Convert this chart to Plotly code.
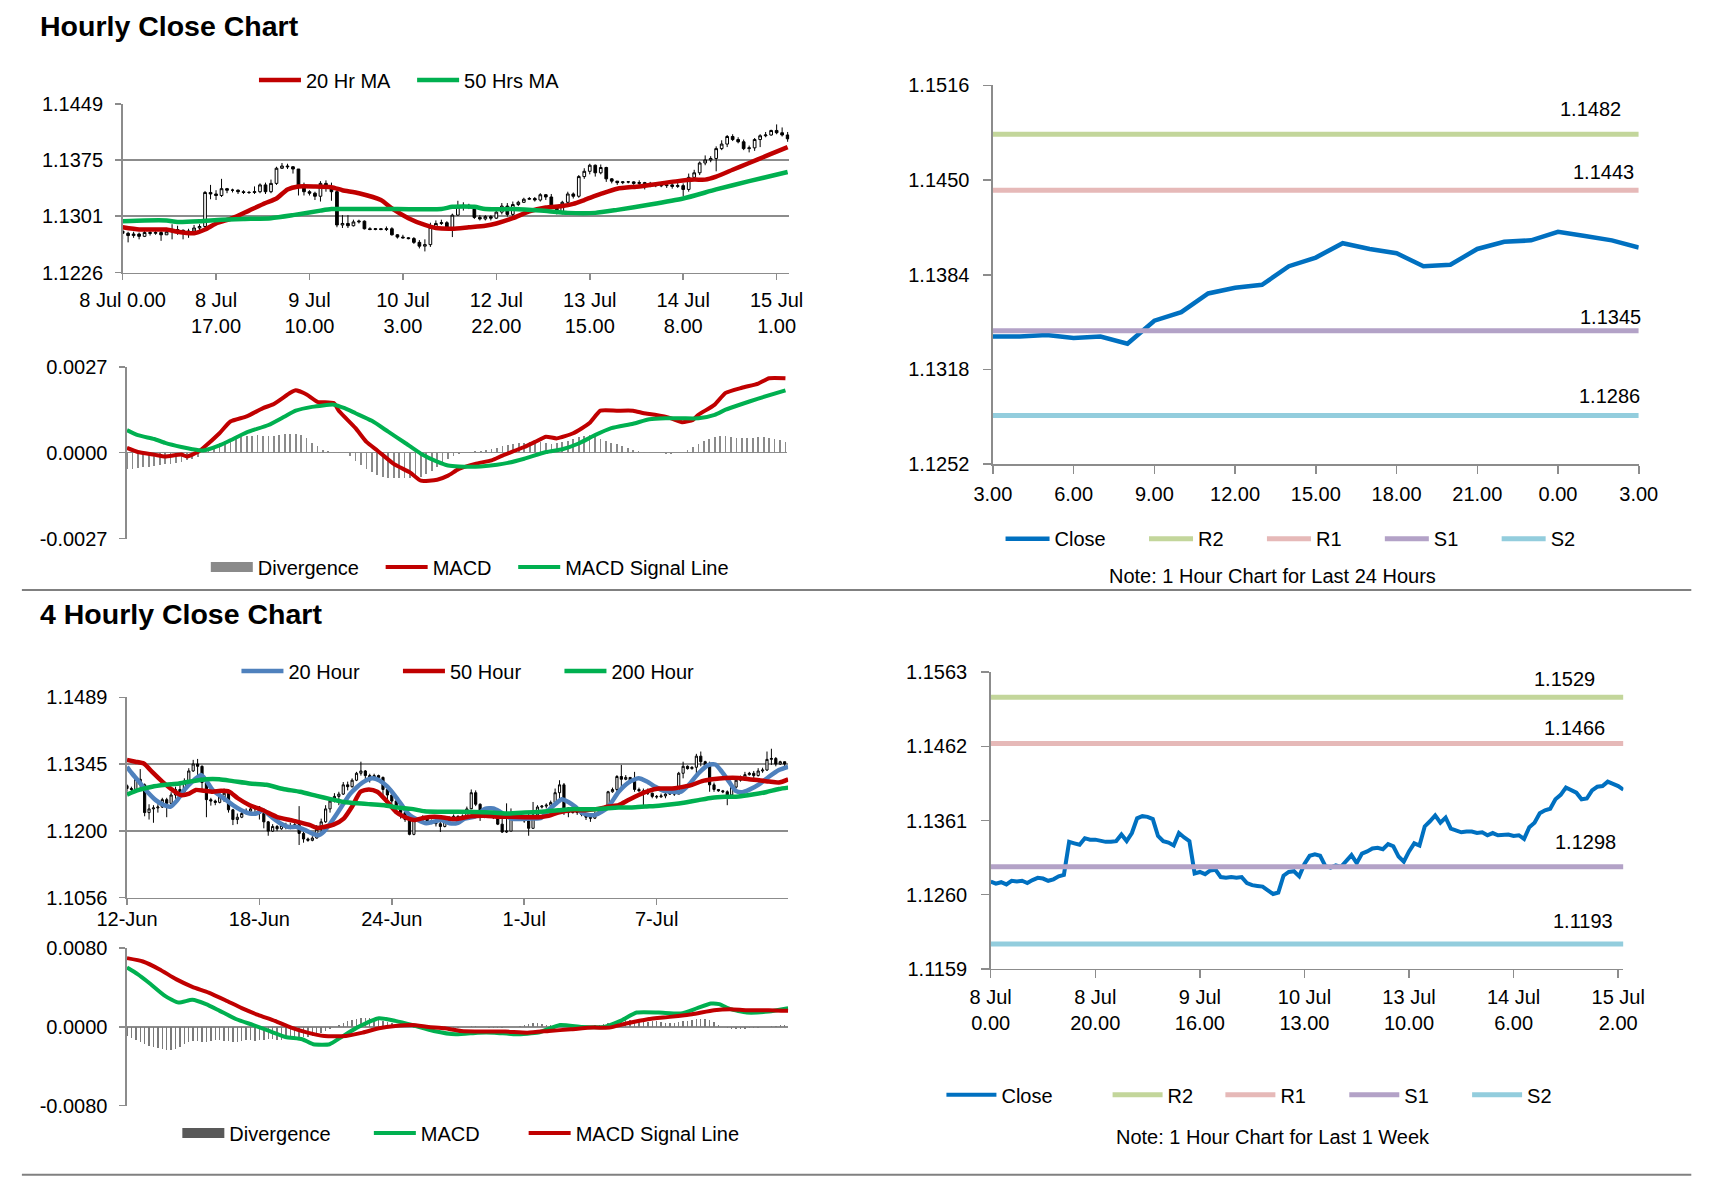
import plotly.graph_objects as go

# ------------------------------------------------------------------
# DATA
# ------------------------------------------------------------------
# Hourly candles, 8 Jul 0:00 .. 15 Jul 3:00 (index = hour number, weekend skipped)
hourly_first_open = 1.1281
hourly_close = [
    1.1278, 1.1275, 1.1277, 1.1274, 1.1279, 1.1278, 1.1279, 1.1276, 1.1280, 1.1283,
    1.1282, 1.1279, 1.1281, 1.1285, 1.1287, 1.1332, 1.1330, 1.1328, 1.1337, 1.1335,
    1.1335, 1.1333, 1.1332, 1.1332, 1.1333, 1.1342, 1.1333, 1.1344, 1.1364, 1.1367,
    1.1366, 1.1363, 1.1340, 1.1333, 1.1331, 1.1327, 1.1344, 1.1338, 1.1333, 1.1289,
    1.1291, 1.1288, 1.1293, 1.1294, 1.1284, 1.1283, 1.1284, 1.1283, 1.1284, 1.1276,
    1.1273, 1.1272, 1.1271, 1.1266, 1.1261, 1.1263, 1.1286, 1.1291, 1.1292, 1.1285,
    1.1302, 1.1313, 1.1315, 1.1313, 1.1299, 1.1297, 1.1300, 1.1298, 1.1306, 1.1314,
    1.1303, 1.1316, 1.1319, 1.1323, 1.1324, 1.1322, 1.1329, 1.1326, 1.1312, 1.1305,
    1.1319, 1.1330, 1.1327, 1.1353, 1.1360, 1.1368, 1.1358, 1.1365, 1.1350, 1.1347,
    1.1345, 1.1346, 1.1346, 1.1344, 1.1345, 1.1341, 1.1344, 1.1341, 1.1341, 1.1342,
    1.1340, 1.1341, 1.1336, 1.1352, 1.1358, 1.1371, 1.1375, 1.1377, 1.1390, 1.1396,
    1.1406, 1.1402, 1.1399, 1.1390, 1.1391, 1.1402, 1.1407, 1.1408, 1.1414, 1.1411,
    1.1408, 1.1403]
hourly_high = [
    1.1281, 1.1280, 1.1280, 1.1279, 1.1283, 1.1281, 1.1282, 1.1281, 1.1283, 1.1290,
    1.1288, 1.1283, 1.1284, 1.1289, 1.1290, 1.1334, 1.1342, 1.1335, 1.1350, 1.1338,
    1.1337, 1.1336, 1.1335, 1.1334, 1.1340, 1.1344, 1.1345, 1.1349, 1.1366, 1.1371,
    1.1370, 1.1367, 1.1362, 1.1345, 1.1335, 1.1333, 1.1347, 1.1348, 1.1345, 1.1338,
    1.1302, 1.1302, 1.1296, 1.1296, 1.1295, 1.1286, 1.1285, 1.1285, 1.1287, 1.1286,
    1.1277, 1.1276, 1.1273, 1.1273, 1.1269, 1.1270, 1.1292, 1.1295, 1.1296, 1.1294,
    1.1304, 1.1321, 1.1319, 1.1317, 1.1313, 1.1302, 1.1302, 1.1302, 1.1308, 1.1318,
    1.1318, 1.1320, 1.1321, 1.1325, 1.1326, 1.1326, 1.1331, 1.1330, 1.1330, 1.1312,
    1.1321, 1.1333, 1.1332, 1.1355, 1.1364, 1.1370, 1.1369, 1.1369, 1.1366, 1.1351,
    1.1347, 1.1347, 1.1347, 1.1347, 1.1348, 1.1346, 1.1346, 1.1345, 1.1345, 1.1347,
    1.1346, 1.1345, 1.1344, 1.1357, 1.1362, 1.1373, 1.1381, 1.1380, 1.1393, 1.1401,
    1.1408, 1.1409, 1.1405, 1.1402, 1.1394, 1.1404, 1.1409, 1.1412, 1.1415, 1.1422,
    1.1418, 1.1412]
hourly_low = [
    1.1270, 1.1266, 1.1272, 1.1270, 1.1273, 1.1275, 1.1276, 1.1268, 1.1276, 1.1270,
    1.1276, 1.1270, 1.1272, 1.1280, 1.1282, 1.1285, 1.1323, 1.1322, 1.1326, 1.1331,
    1.1332, 1.1330, 1.1330, 1.1330, 1.1330, 1.1331, 1.1330, 1.1331, 1.1342, 1.1363,
    1.1363, 1.1357, 1.1328, 1.1328, 1.1328, 1.1322, 1.1320, 1.1333, 1.1321, 1.1286,
    1.1285, 1.1285, 1.1287, 1.1291, 1.1283, 1.1282, 1.1282, 1.1282, 1.1281, 1.1275,
    1.1271, 1.1271, 1.1270, 1.1264, 1.1258, 1.1254, 1.1260, 1.1284, 1.1289, 1.1283,
    1.1273, 1.1301, 1.1308, 1.1310, 1.1297, 1.1295, 1.1295, 1.1295, 1.1297, 1.1303,
    1.1300, 1.1300, 1.1314, 1.1318, 1.1322, 1.1320, 1.1320, 1.1322, 1.1310, 1.1303,
    1.1303, 1.1318, 1.1324, 1.1325, 1.1350, 1.1356, 1.1353, 1.1356, 1.1346, 1.1344,
    1.1342, 1.1343, 1.1344, 1.1342, 1.1341, 1.1336, 1.1339, 1.1339, 1.1339, 1.1338,
    1.1337, 1.1338, 1.1327, 1.1333, 1.1350, 1.1355, 1.1368, 1.1372, 1.1360, 1.1388,
    1.1392, 1.1400, 1.1397, 1.1388, 1.1385, 1.1387, 1.1392, 1.1405, 1.1407, 1.1409,
    1.1406, 1.1399]
hourly_tick_idx = [0, 17, 34, 51, 68, 85, 102, 119]
hourly_tick_text = ["8 Jul 0.00", "8 Jul<br>17.00", "9 Jul<br>10.00", "10 Jul<br>3.00",
                    "12 Jul<br>22.00", "13 Jul<br>15.00", "14 Jul<br>8.00", "15 Jul<br>1.00"]
hourly_yticks = [1.1226, 1.1301, 1.1375, 1.1449]

ma20_idx = [0, 3, 5, 8, 10, 13, 15, 17, 20, 23, 26, 28, 30, 32, 35, 38, 40, 43, 47, 49,
            52, 55, 57, 60, 63, 66, 68, 71, 74, 77, 80, 82, 84, 87, 90, 94, 98, 101, 104, 106,
            108, 111, 114, 117, 119, 121]
ma20_val = [1.1286, 1.1283, 1.1283, 1.1283, 1.1280, 1.1278, 1.1283, 1.1291, 1.1298, 1.1308,
            1.1318, 1.1324, 1.1336, 1.1340, 1.1340, 1.1339, 1.1335, 1.1331, 1.1322, 1.1311,
            1.1298, 1.1289, 1.1285, 1.1284, 1.1286, 1.1288, 1.1291, 1.1298, 1.1307, 1.1312,
            1.1314, 1.1317, 1.1322, 1.1330, 1.1337, 1.1340, 1.1344, 1.1347, 1.1349, 1.1349,
            1.1353, 1.1362, 1.1371, 1.1380, 1.1386, 1.1392]
ma50_idx = [0, 4, 8, 10, 14, 18, 22, 27, 31, 36, 38, 41, 50, 58, 60, 64, 66, 71, 76, 81,
            86, 90, 96, 102, 108, 114, 121]
ma50_val = [1.1294, 1.1295, 1.1295, 1.1293, 1.1294, 1.1296, 1.1297, 1.1298, 1.1302, 1.1308,
            1.1310, 1.1310, 1.1310, 1.1310, 1.1313, 1.1313, 1.1310, 1.1310, 1.1308, 1.1305,
            1.1305, 1.1309, 1.1316, 1.1324, 1.1336, 1.1347, 1.1359]

macd1_idx = [0, 2, 5, 7, 10, 11, 13, 14, 17, 19, 22, 25, 27, 30, 31, 33, 35, 38, 39, 42,
             44, 46, 49, 52, 54, 57, 59, 61, 64, 67, 69, 73, 75, 77, 79, 82, 85, 87, 90, 93,
             95, 97, 100, 102, 104, 105, 108, 110, 113, 116, 118, 121]
macd1_val = [0.00015, 0.00002, -0.00006, -0.00012, -0.00006, -0.00012, 0.00002, 0.00015, 0.00061, 0.00098,
             0.00114, 0.00140, 0.00153, 0.00188, 0.00196, 0.00183, 0.00160, 0.00156, 0.00130, 0.00077,
             0.00034, 0.00007, -0.00035, -0.00062, -0.00088, -0.00085, -0.00072, -0.00051, -0.00035, -0.00024,
             -0.00009, 0.00018, 0.00034, 0.00050, 0.00045, 0.00061, 0.00093, 0.00132, 0.00132, 0.00132,
             0.00124, 0.00119, 0.00108, 0.00096, 0.00103, 0.00119, 0.00151, 0.00188, 0.00204, 0.00217,
             0.00234, 0.00234]
signal1_idx = [0, 2, 5, 7, 10, 12, 14, 17, 19, 22, 26, 29, 31, 34, 38, 40, 42, 45, 48, 51,
               54, 57, 59, 61, 65, 68, 70, 73, 77, 80, 83, 86, 89, 93, 96, 99, 102, 105, 108, 110,
               113, 116, 121]
signal1_val = [0.00071, 0.00055, 0.00043, 0.00031, 0.00018, 0.00011, 0.00007, 0.00023, 0.00039, 0.00064,
               0.00087, 0.00114, 0.00132, 0.00144, 0.00151, 0.00140, 0.00124, 0.00100, 0.00066, 0.00032,
               -0.00003, -0.00028, -0.00040, -0.00043, -0.00043, -0.00038, -0.00032, -0.00019, 0.00002, 0.00011,
               0.00029, 0.00055, 0.00077, 0.00091, 0.00105, 0.00108, 0.00108, 0.00108, 0.00119, 0.00135,
               0.00153, 0.00170, 0.00196]
div1 = [
    -0.00050, -0.00050, -0.00048, -0.00046, -0.00044, -0.00042, -0.00040, -0.00037, -0.00034, -0.00031,
    -0.00028, -0.00024, -0.00020, -0.00012, 0.00000, 0.00010, 0.00020, 0.00030, 0.00038, 0.00044,
    0.00048, 0.00050, 0.00052, 0.00054, 0.00055, 0.00054, 0.00053, 0.00054, 0.00056, 0.00058,
    0.00060, 0.00060, 0.00055, 0.00045, 0.00032, 0.00020, 0.00010, 0.00005, 0.00003, 0.00002,
    0.00000, -0.00010, -0.00025, -0.00040, -0.00052, -0.00062, -0.00070, -0.00075, -0.00078, -0.00080,
    -0.00080, -0.00080, -0.00079, -0.00078, -0.00075, -0.00068, -0.00058, -0.00045, -0.00032, -0.00020,
    -0.00010, -0.00004, -0.00002, 0.00002, 0.00004, 0.00006, 0.00008, 0.00012, 0.00016, 0.00020,
    0.00024, 0.00028, 0.00030, 0.00032, 0.00033, 0.00034, 0.00033, 0.00030, 0.00028, 0.00030,
    0.00034, 0.00038, 0.00042, 0.00048, 0.00052, 0.00055, 0.00050, 0.00044, 0.00038, 0.00032,
    0.00026, 0.00020, 0.00014, 0.00008, 0.00004, 0.00002, 0.00001, 0.00000, -0.00002, -0.00004,
    -0.00003, -0.00002, 0.00000, 0.00008, 0.00018, 0.00028, 0.00036, 0.00042, 0.00048, 0.00052,
    0.00052, 0.00048, 0.00046, 0.00046, 0.00046, 0.00046, 0.00048, 0.00048, 0.00046, 0.00044,
    0.00040, 0.00034]
macd1_yticks = [-0.0027, 0.0000, 0.0027]

# Last 24 hours panel
day_tick_text = ["3.00", "6.00", "9.00", "12.00", "15.00", "18.00", "21.00", "0.00", "3.00"]
day_yticks = [1.1252, 1.1318, 1.1384, 1.1450, 1.1516]
level_names = ["R2", "R1", "S1", "S2"]
levels_24h = [1.1482, 1.1443, 1.1345, 1.1286]

# 4-hour candles, 12 Jun .. 15 Jul
h4_first_open = 1.1298
h4_close = [
    1.1292, 1.1290, 1.1312, 1.1300, 1.1240, 1.1248, 1.1250, 1.1252, 1.1268, 1.1260,
    1.1278, 1.1290, 1.1285, 1.1308, 1.1330, 1.1345, 1.1340, 1.1305, 1.1268, 1.1265,
    1.1262, 1.1274, 1.1282, 1.1246, 1.1225, 1.1230, 1.1238, 1.1243, 1.1248, 1.1252,
    1.1238, 1.1220, 1.1200, 1.1210, 1.1205, 1.1212, 1.1208, 1.1210, 1.1214, 1.1195,
    1.1183, 1.1180, 1.1185, 1.1204, 1.1220, 1.1248, 1.1265, 1.1275, 1.1280, 1.1300,
    1.1296, 1.1310, 1.1325, 1.1330, 1.1320, 1.1315, 1.1320, 1.1316, 1.1290, 1.1278,
    1.1265, 1.1250, 1.1240, 1.1225, 1.1193, 1.1225, 1.1224, 1.1230, 1.1222, 1.1220,
    1.1216, 1.1210, 1.1222, 1.1228, 1.1232, 1.1230, 1.1232, 1.1248, 1.1283, 1.1258,
    1.1230, 1.1233, 1.1236, 1.1232, 1.1215, 1.1198, 1.1200, 1.1232, 1.1230, 1.1226,
    1.1222, 1.1206, 1.1235, 1.1252, 1.1254, 1.1256, 1.1262, 1.1283, 1.1300, 1.1250,
    1.1240, 1.1244, 1.1240, 1.1236, 1.1230, 1.1228, 1.1238, 1.1245, 1.1249, 1.1285,
    1.1290, 1.1318, 1.1312, 1.1316, 1.1308, 1.1290, 1.1287, 1.1283, 1.1282, 1.1275,
    1.1274, 1.1276, 1.1280, 1.1283, 1.1280, 1.1325, 1.1340, 1.1335, 1.1338, 1.1362,
    1.1350, 1.1342, 1.1300, 1.1290, 1.1287, 1.1285, 1.1278, 1.1295, 1.1310, 1.1316,
    1.1322, 1.1325, 1.1320, 1.1330, 1.1332, 1.1355, 1.1357, 1.1345, 1.1350, 1.1345]
h4_high = [
    1.1301, 1.1296, 1.1318, 1.1334, 1.1303, 1.1258, 1.1256, 1.1258, 1.1272, 1.1272,
    1.1284, 1.1296, 1.1300, 1.1314, 1.1336, 1.1354, 1.1356, 1.1342, 1.1310, 1.1272,
    1.1268, 1.1285, 1.1292, 1.1284, 1.1248, 1.1238, 1.1242, 1.1249, 1.1252, 1.1256,
    1.1254, 1.1240, 1.1222, 1.1215, 1.1213, 1.1216, 1.1218, 1.1218, 1.1220, 1.1254,
    1.1199, 1.1186, 1.1189, 1.1213, 1.1227, 1.1256, 1.1271, 1.1282, 1.1285, 1.1306,
    1.1307, 1.1314, 1.1328, 1.1350, 1.1332, 1.1324, 1.1324, 1.1322, 1.1318, 1.1292,
    1.1280, 1.1267, 1.1256, 1.1242, 1.1235, 1.1230, 1.1230, 1.1234, 1.1232, 1.1225,
    1.1224, 1.1230, 1.1227, 1.1232, 1.1236, 1.1234, 1.1236, 1.1253, 1.1290, 1.1288,
    1.1260, 1.1237, 1.1239, 1.1240, 1.1235, 1.1227, 1.1260, 1.1249, 1.1235, 1.1231,
    1.1227, 1.1242, 1.1263, 1.1256, 1.1256, 1.1260, 1.1266, 1.1292, 1.1310, 1.1304,
    1.1252, 1.1252, 1.1245, 1.1242, 1.1238, 1.1234, 1.1242, 1.1249, 1.1253, 1.1287,
    1.1294, 1.1321, 1.1343, 1.1321, 1.1316, 1.1328, 1.1294, 1.1292, 1.1292, 1.1283,
    1.1278, 1.1281, 1.1285, 1.1288, 1.1285, 1.1328, 1.1350, 1.1342, 1.1340, 1.1367,
    1.1372, 1.1352, 1.1350, 1.1305, 1.1290, 1.1289, 1.1288, 1.1300, 1.1314, 1.1320,
    1.1328, 1.1328, 1.1330, 1.1336, 1.1337, 1.1372, 1.1378, 1.1360, 1.1352, 1.1350]
h4_low = [
    1.1285, 1.1284, 1.1288, 1.1292, 1.1232, 1.1225, 1.1218, 1.1240, 1.1250, 1.1230,
    1.1258, 1.1270, 1.1278, 1.1283, 1.1305, 1.1328, 1.1310, 1.1290, 1.1230, 1.1255,
    1.1256, 1.1260, 1.1263, 1.1240, 1.1213, 1.1215, 1.1228, 1.1236, 1.1242, 1.1240,
    1.1225, 1.1206, 1.1190, 1.1198, 1.1200, 1.1203, 1.1204, 1.1204, 1.1206, 1.1170,
    1.1175, 1.1177, 1.1178, 1.1184, 1.1198, 1.1218, 1.1240, 1.1262, 1.1256, 1.1278,
    1.1288, 1.1294, 1.1308, 1.1320, 1.1312, 1.1305, 1.1312, 1.1312, 1.1271, 1.1267,
    1.1256, 1.1242, 1.1227, 1.1220, 1.1191, 1.1191, 1.1220, 1.1222, 1.1218, 1.1215,
    1.1210, 1.1198, 1.1208, 1.1218, 1.1225, 1.1226, 1.1226, 1.1226, 1.1250, 1.1254,
    1.1222, 1.1228, 1.1232, 1.1226, 1.1213, 1.1196, 1.1196, 1.1200, 1.1227, 1.1224,
    1.1218, 1.1190, 1.1206, 1.1235, 1.1249, 1.1249, 1.1256, 1.1256, 1.1268, 1.1235,
    1.1230, 1.1238, 1.1235, 1.1232, 1.1224, 1.1220, 1.1226, 1.1236, 1.1243, 1.1249,
    1.1283, 1.1285, 1.1292, 1.1310, 1.1303, 1.1285, 1.1285, 1.1256, 1.1278, 1.1271,
    1.1270, 1.1272, 1.1271, 1.1278, 1.1276, 1.1280, 1.1314, 1.1333, 1.1333, 1.1324,
    1.1340, 1.1338, 1.1285, 1.1285, 1.1285, 1.1282, 1.1256, 1.1276, 1.1292, 1.1307,
    1.1310, 1.1320, 1.1310, 1.1318, 1.1326, 1.1330, 1.1343, 1.1340, 1.1343, 1.1340]
h4_tick_idx = [0, 30, 60, 90, 120]
h4_tick_text = ["12-Jun", "18-Jun", "24-Jun", "1-Jul", "7-Jul"]
h4_yticks = [1.1056, 1.1200, 1.1345, 1.1489]

ma20h_idx = [0, 1.1, 2.7, 4.6, 6.5, 8.4, 9.9, 11.4, 13.0, 14.8, 16.8, 17.9, 19.4, 20.9, 22.5,
             24.0, 25.9, 27.8, 29.3, 30.8, 32.7, 34.7, 36.6, 38.5, 40.4, 41.9, 43.4, 44.6, 46.1,
             47.6, 49.1, 50.6, 52.2, 53.7, 55.6, 57.1, 59.0, 60.9, 62.5, 64.0, 65.9, 67.8, 69.3,
             71.2, 73.1, 75.0, 76.5, 78.8, 81.1, 83.0, 84.5, 87.1, 89.4, 91.7, 93.9, 95.5, 97.0,
             98.5, 100.0, 101.5, 103.0, 104.5, 106.1, 107.6, 109.1, 111.4, 113.6, 115.9, 117.8,
             119.7, 121.6, 123.5, 125.4, 127.3, 129.5, 131.8, 133.3, 134.8, 136.4, 137.9, 139.4,
             140.9, 143.2, 145.5, 147.7, 149.8]
ma20h_val = [1.1339, 1.1325, 1.1307, 1.1285, 1.1267, 1.1256, 1.1253, 1.1267, 1.1289, 1.1307,
             1.1321, 1.1310, 1.1289, 1.1278, 1.1267, 1.1256, 1.1245, 1.1238, 1.1238, 1.1245,
             1.1231, 1.1217, 1.1209, 1.1209, 1.1202, 1.1195, 1.1191, 1.1199, 1.1217, 1.1238,
             1.1260, 1.1281, 1.1296, 1.1307, 1.1314, 1.1310, 1.1296, 1.1274, 1.1253, 1.1235,
             1.1224, 1.1217, 1.1220, 1.1224, 1.1217, 1.1218, 1.1227, 1.1231, 1.1248, 1.1249,
             1.1242, 1.1227, 1.1226, 1.1227, 1.1229, 1.1245, 1.1258, 1.1269, 1.1263, 1.1253,
             1.1240, 1.1235, 1.1235, 1.1242, 1.1253, 1.1285, 1.1305, 1.1314, 1.1307, 1.1296,
             1.1287, 1.1285, 1.1285, 1.1300, 1.1325, 1.1343, 1.1344, 1.1328, 1.1307, 1.1287,
             1.1284, 1.1289, 1.1301, 1.1318, 1.1332, 1.1339]
ma50h_idx = [0, 1.9, 3.8, 5.7, 8.0, 10.3, 12.2, 14.1, 15.6, 17.5, 19.4, 21.3, 23.2, 25.1, 27.8,
             30.8, 33.9, 36.9, 39.2, 41.5, 43.0, 44.6, 46.8, 49.1, 51.0, 52.9, 54.8, 56.7, 59.0,
             60.9, 62.8, 65.1, 67.4, 69.7, 72.0, 74.3, 78.0, 81.1, 84.1, 87.1, 90.2, 93.2, 95.5,
             97.7, 100.8, 103.8, 106.8, 109.1, 111.4, 113.6, 115.9, 118.2, 120.5, 123.5, 125.0,
             128.0, 130.3, 132.6, 135.6, 138.6, 140.9, 143.2, 145.5, 147.7, 149.8]
ma50h_val = [1.1354, 1.1350, 1.1346, 1.1328, 1.1307, 1.1289, 1.1278, 1.1281, 1.1289, 1.1287,
             1.1285, 1.1287, 1.1285, 1.1271, 1.1256, 1.1245, 1.1231, 1.1224, 1.1219, 1.1213,
             1.1207, 1.1209, 1.1214, 1.1227, 1.1253, 1.1285, 1.1290, 1.1285, 1.1263, 1.1242,
             1.1231, 1.1224, 1.1229, 1.1231, 1.1229, 1.1226, 1.1232, 1.1233, 1.1231, 1.1231,
             1.1230, 1.1230, 1.1233, 1.1240, 1.1245, 1.1245, 1.1248, 1.1253, 1.1256, 1.1267,
             1.1278, 1.1287, 1.1292, 1.1292, 1.1294, 1.1300, 1.1308, 1.1312, 1.1315, 1.1315,
             1.1312, 1.1310, 1.1307, 1.1305, 1.1312]
ma200h_idx = [0, 2.7, 5.7, 8.8, 11.8, 14.9, 17.9, 20.9, 24.0, 27.8, 31.6, 35.4, 39.2, 43.0,
              46.1, 49.1, 52.2, 55.2, 58.3, 61.3, 64.4, 67.4, 70.4, 75.0, 82.6, 86.4, 90.2, 93.9,
              97.7, 101.5, 105.3, 108.3, 111.4, 114.4, 117.4, 120.5, 123.5, 126.5, 129.5, 132.6,
              135.6, 138.6, 141.7, 144.7, 147.7, 149.8]
ma200h_val = [1.1279, 1.1289, 1.1296, 1.1300, 1.1303, 1.1308, 1.1312, 1.1312, 1.1308, 1.1303,
              1.1300, 1.1291, 1.1285, 1.1276, 1.1269, 1.1263, 1.1260, 1.1258, 1.1256, 1.1251,
              1.1248, 1.1243, 1.1242, 1.1242, 1.1240, 1.1238, 1.1240, 1.1242, 1.1245, 1.1248,
              1.1247, 1.1249, 1.1251, 1.1251, 1.1253, 1.1255, 1.1258, 1.1262, 1.1267, 1.1272,
              1.1274, 1.1275, 1.1279, 1.1284, 1.1291, 1.1294]

macd2_idx = [0, 2.4, 4.9, 8.6, 11.7, 14.8, 17.9, 21.0, 24.8, 28.5, 32.2, 35.9, 39.7, 42.2, 45.9,
             48.4, 52.1, 57.1, 60.8, 64.6, 69.5, 74.5, 79.5, 83.2, 88.2, 93.2, 98.1, 103.1, 108.1,
             111.8, 115.5, 120.5, 125.5, 129.2, 132.3, 134.2, 136.7, 140.4, 145.4, 149.8]
macd2_val = [0.00603, 0.00536, 0.00451, 0.00315, 0.00247, 0.00275, 0.00231, 0.00163, 0.00078, 0.00020,
             -0.00041, -0.00102, -0.00125, -0.00176, -0.00176, -0.00108, -0.00007, 0.00088, 0.00061, 0.00020,
             -0.00041, -0.00075, -0.00058, -0.00058, -0.00075, -0.00058, 0.00020, 0.00000, 0.00000, 0.00061,
             0.00146, 0.00146, 0.00136, 0.00190, 0.00237, 0.00231, 0.00180, 0.00146, 0.00156, 0.00190]
signal2_idx = [0, 3.6, 7.3, 11.1, 14.8, 18.5, 22.3, 26.0, 29.7, 33.5, 37.2, 40.9, 44.7, 49.6,
               53.4, 57.1, 60.8, 64.6, 68.3, 72.0, 75.7, 80.7, 85.7, 90.7, 95.6, 100.6, 105.6,
               109.3, 113.1, 118.0, 123.0, 128.0, 133.0, 136.7, 140.4, 145.4, 149.8]
signal2_val = [0.00698, 0.00664, 0.00586, 0.00485, 0.00407, 0.00349, 0.00271, 0.00190, 0.00122, 0.00061,
               -0.00007, -0.00058, -0.00092, -0.00092, -0.00058, -0.00014, 0.00010, 0.00020, 0.00000, -0.00014,
               -0.00041, -0.00047, -0.00047, -0.00058, -0.00041, -0.00024, -0.00007, -0.00007, 0.00034, 0.00078,
               0.00102, 0.00129, 0.00170, 0.00180, 0.00170, 0.00170, 0.00163]
div2 = [
    -0.0009, -0.0011, -0.0013, -0.0015, -0.0017, -0.0019, -0.0020, -0.0021, -0.0022, -0.0023,
    -0.0023, -0.0022, -0.0020, -0.0017, -0.0015, -0.0014, -0.0014, -0.0015, -0.0015, -0.0014,
    -0.0013, -0.0013, -0.0014, -0.0014, -0.0015, -0.0015, -0.0014, -0.0013, -0.0013, -0.0014,
    -0.0013, -0.0013, -0.0012, -0.0012, -0.0013, -0.0013, -0.0012, -0.0012, -0.0011, -0.0011,
    -0.0010, -0.0010, -0.0009, -0.0008, -0.0006, -0.0004, -0.0002, 0.0000, 0.0002, 0.0004,
    0.0006, 0.0007, 0.0008, 0.0009, 0.0009, 0.0009, 0.0008, 0.0007, 0.0006, 0.0005,
    0.0004, 0.0003, 0.0002, 0.0001, 0.0000, -0.0001, -0.0001, -0.0002, -0.0002, -0.0002,
    -0.0002, -0.0001, -0.0001, -0.0001, -0.0001, -0.0001, 0.0000, 0.0000, 0.0001, 0.0001,
    0.0000, 0.0000, -0.0001, -0.0001, -0.0001, -0.0001, 0.0000, 0.0000, 0.0000, 0.0001,
    0.0002, 0.0003, 0.0004, 0.0004, 0.0003, 0.0002, 0.0002, 0.0001, 0.0001, 0.0000,
    0.0000, 0.0000, 0.0000, 0.0000, 0.0001, 0.0001, 0.0002, 0.0002, 0.0003, 0.0004,
    0.0005, 0.0006, 0.0007, 0.0007, 0.0007, 0.0006, 0.0005, 0.0005, 0.0005, 0.0006,
    0.0006, 0.0005, 0.0004, 0.0004, 0.0004, 0.0005, 0.0006, 0.0006, 0.0007, 0.0008,
    0.0008, 0.0008, 0.0007, 0.0005, 0.0002, 0.0000, -0.0001, -0.0002, -0.0002, -0.0002,
    -0.0002, -0.0001, -0.0001, -0.0001, 0.0000, 0.0000, 0.0001, 0.0001, 0.0002, 0.0002]
macd2_yticks = [-0.0080, 0.0000, 0.0080]

# Last week panel (same hourly closes)
week_tick_idx = [0, 20, 40, 60, 80, 100, 120]
week_tick_text = ["8 Jul<br>0.00", "8 Jul<br>20.00", "9 Jul<br>16.00", "10 Jul<br>13.00",
                  "13 Jul<br>10.00", "14 Jul<br>6.00", "15 Jul<br>2.00"]
week_yticks = [1.1159, 1.1260, 1.1361, 1.1462, 1.1563]
levels_week = [1.1529, 1.1466, 1.1298, 1.1193]

# ------------------------------------------------------------------
# STYLE / LAYOUT HELPERS
# ------------------------------------------------------------------
FONT = "Liberation Sans, Arial, sans-serif"
RED = "#c00000"
GREEN = "#00b050"
BLUE_MA = "#4f81bd"
BLUE_CLOSE = "#0070c0"
GRID = "#8c8c8c"
LEVEL_COLORS = ["#c3d69b", "#e6b9b8", "#b3a2c7", "#93cddd"]

REF_W, REF_H = 1563.0, 1076.0


def fx(v):
    return v / REF_W


def fy(v):
    return 1.0 - v / REF_H


def nb(n):
    return "\u00a0" * n


fig = go.Figure()

# ---------------- Hourly candles ----------------
h_x = list(range(len(hourly_close)))
h_open = [hourly_first_open] + hourly_close[:-1]
fig.add_trace(go.Candlestick(
    x=h_x, open=h_open, high=hourly_high, low=hourly_low, close=hourly_close,
    increasing=dict(line=dict(color="black", width=1), fillcolor="white"),
    decreasing=dict(line=dict(color="black", width=1), fillcolor="black"),
    whiskerwidth=0, showlegend=False, xaxis="x", yaxis="y"))
fig.add_trace(go.Scatter(x=ma20_idx, y=ma20_val, mode="lines", name="20 Hr MA" + nb(3),
                         line=dict(color=RED, width=4.5, shape="spline", smoothing=0.6),
                         legend="legend", xaxis="x", yaxis="y"))
fig.add_trace(go.Scatter(x=ma50_idx, y=ma50_val, mode="lines", name="50 Hrs MA",
                         line=dict(color=GREEN, width=4.5, shape="spline", smoothing=0.6),
                         legend="legend", xaxis="x", yaxis="y"))

# ---------------- Hourly MACD ----------------
fig.add_trace(go.Bar(x=h_x, y=div1, marker=dict(color="#8a8a8a", line=dict(width=0)), width=0.32,
                     showlegend=False, xaxis="x2", yaxis="y2"))
fig.add_trace(go.Scatter(x=[None], y=[None], mode="lines", name="Divergence" + nb(3),
                         line=dict(color="#8a8a8a", width=10), legend="legend2", xaxis="x2", yaxis="y2"))
fig.add_trace(go.Scatter(x=macd1_idx, y=macd1_val, mode="lines", name="MACD" + nb(3),
                         line=dict(color=RED, width=4, shape="spline", smoothing=0.5),
                         legend="legend2", xaxis="x2", yaxis="y2"))
fig.add_trace(go.Scatter(x=signal1_idx, y=signal1_val, mode="lines", name="MACD Signal Line",
                         line=dict(color=GREEN, width=4, shape="spline", smoothing=0.5),
                         legend="legend2", xaxis="x2", yaxis="y2"))

# ---------------- Last 24 hours ----------------
day_close = hourly_close[-25:]
day_x = list(range(len(day_close)))
fig.add_trace(go.Scatter(x=day_x, y=day_close, mode="lines", name="Close" + nb(6),
                         line=dict(color=BLUE_CLOSE, width=4.5), legend="legend3",
                         xaxis="x3", yaxis="y3"))
for name, lv, col in zip(level_names, levels_24h, LEVEL_COLORS):
    fig.add_trace(go.Scatter(x=[day_x[0], day_x[-1]], y=[lv, lv], mode="lines",
                             name=name + (nb(6) if name != "S2" else ""),
                             line=dict(color=col, width=5), legend="legend3",
                             xaxis="x3", yaxis="y3"))

# ---------------- 4 hourly candles ----------------
f_x = list(range(len(h4_close)))
f_open = [h4_first_open] + h4_close[:-1]
fig.add_trace(go.Candlestick(
    x=f_x, open=f_open, high=h4_high, low=h4_low, close=h4_close,
    increasing=dict(line=dict(color="black", width=1), fillcolor="white"),
    decreasing=dict(line=dict(color="black", width=1), fillcolor="black"),
    whiskerwidth=0, showlegend=False, xaxis="x4", yaxis="y4"))
fig.add_trace(go.Scatter(x=ma20h_idx, y=ma20h_val, mode="lines", name="20 Hour" + nb(6),
                         line=dict(color=BLUE_MA, width=4.5, shape="spline", smoothing=0.6),
                         legend="legend4", xaxis="x4", yaxis="y4"))
fig.add_trace(go.Scatter(x=ma50h_idx, y=ma50h_val, mode="lines", name="50 Hour" + nb(6),
                         line=dict(color=RED, width=4.5, shape="spline", smoothing=0.6),
                         legend="legend4", xaxis="x4", yaxis="y4"))
fig.add_trace(go.Scatter(x=ma200h_idx, y=ma200h_val, mode="lines", name="200 Hour",
                         line=dict(color=GREEN, width=4.5, shape="spline", smoothing=0.6),
                         legend="legend4", xaxis="x4", yaxis="y4"))

# ---------------- 4 hourly MACD ----------------
fig.add_trace(go.Bar(x=f_x, y=div2, marker=dict(color="#7a7a7a", line=dict(width=0)), width=0.32,
                     showlegend=False, xaxis="x5", yaxis="y5"))
fig.add_trace(go.Scatter(x=[None], y=[None], mode="lines", name="Divergence" + nb(6),
                         line=dict(color="#595959", width=10), legend="legend5", xaxis="x5", yaxis="y5"))
fig.add_trace(go.Scatter(x=macd2_idx, y=macd2_val, mode="lines", name="MACD" + nb(7),
                         line=dict(color=GREEN, width=4, shape="spline", smoothing=0.5),
                         legend="legend5", xaxis="x5", yaxis="y5"))
fig.add_trace(go.Scatter(x=signal2_idx, y=signal2_val, mode="lines", name="MACD Signal Line",
                         line=dict(color=RED, width=4, shape="spline", smoothing=0.5),
                         legend="legend5", xaxis="x5", yaxis="y5"))

# ---------------- Last week ----------------
fig.add_trace(go.Scatter(x=h_x, y=hourly_close, mode="lines", name="Close" + nb(9),
                         line=dict(color=BLUE_CLOSE, width=4), legend="legend6",
                         xaxis="x6", yaxis="y6"))
week_pad = {"R2": 4, "R1": 6, "S1": 6, "S2": 0}
for name, lv, col in zip(level_names, levels_week, LEVEL_COLORS):
    fig.add_trace(go.Scatter(x=[h_x[0], h_x[-1]], y=[lv, lv], mode="lines",
                             name=name + nb(week_pad[name]),
                             line=dict(color=col, width=5), legend="legend6",
                             xaxis="x6", yaxis="y6"))

# ------------------------------------------------------------------
# AXES
# ------------------------------------------------------------------
tickfont = dict(family=FONT, size=20, color="black")


def xax(domain, rng, anchor, tickvals=None, ticktext=None, ticklen=6, standoff=6, show_labels=True,
        showline=True):
    d = dict(domain=domain, range=rng, anchor=anchor, showgrid=False, zeroline=False,
             showline=showline, linecolor=GRID, linewidth=1.5, tickfont=tickfont,
             rangeslider=dict(visible=False), fixedrange=True)
    if show_labels:
        d.update(tickmode="array", tickvals=tickvals, ticktext=ticktext, ticks="outside",
                 ticklen=ticklen, tickcolor=GRID, tickwidth=1.5, ticklabelstandoff=standoff)
    else:
        d.update(showticklabels=False, ticks="")
    return d


def yax(domain, ticks, anchor, fmt, grid, standoff, ticklen=6):
    return dict(domain=domain, range=[ticks[0], ticks[-1]], anchor=anchor, tickmode="array",
                tickvals=ticks, ticktext=[fmt.format(v) for v in ticks], showgrid=grid,
                gridcolor=GRID, gridwidth=1.5, zeroline=False, showline=True, linecolor=GRID,
                linewidth=1.5, ticks="outside", ticklen=ticklen, tickcolor=GRID, tickwidth=1.5,
                tickfont=tickfont, ticklabelstandoff=standoff, fixedrange=True)


layout_axes = dict(
    xaxis=xax([fx(112), fx(721)], [0, 121.3], "y", hourly_tick_idx, hourly_tick_text, 6, 3),
    yaxis=yax([fy(249), fy(95)], hourly_yticks, "x", "{:.4f}", True, 8),
    xaxis2=xax([fx(116), fx(719)], [0, 121.3], "y2", show_labels=False, showline=False),
    yaxis2=yax([fy(492), fy(335)], macd1_yticks, "x2", "{:.4f}", True, 8),
    xaxis3=xax([fx(907), fx(1497)], [day_x[0], day_x[-1]], "y3", list(range(0, 25, 3)),
               day_tick_text, 8, 3),
    yaxis3=yax([fy(424), fy(78)], day_yticks, "x3", "{:.4f}", False, 10, 8),
    xaxis4=xax([fx(116), fx(720)], [0, 149.8], "y4", h4_tick_idx, h4_tick_text, 6, -3),
    yaxis4=yax([fy(820), fy(637)], h4_yticks, "x4", "{:.4f}", True, 8),
    xaxis5=xax([fx(116), fx(720)], [0, 149.8], "y5", show_labels=False, showline=False),
    yaxis5=yax([fy(1010), fy(866)], macd2_yticks, "x5", "{:.4f}", True, 8),
    xaxis6=xax([fx(905), fx(1483)], [0, 121], "y6", week_tick_idx, week_tick_text, 8, 2),
    yaxis6=yax([fy(885), fy(614)], week_yticks, "x6", "{:.4f}", False, 10, 8),
)


def legend_cfg(x_disp, y_disp, itemwidth):
    return dict(orientation="h", x=fx(x_disp), y=fy(y_disp), xanchor="left", yanchor="middle",
                font=dict(family=FONT, size=20, color="black"), bgcolor="rgba(0,0,0,0)",
                itemwidth=itemwidth, traceorder="normal", itemclick=False, itemdoubleclick=False)


# ------------------------------------------------------------------
# ANNOTATIONS / SHAPES
# ------------------------------------------------------------------
annotations = [
    dict(text="<b>Hourly Close Chart</b>", x=fx(35), y=fy(24), xref="paper", yref="paper",
         xanchor="left", yanchor="middle", showarrow=False, font=dict(family=FONT, size=28.5, color="black")),
    dict(text="<b>4 Hourly Close Chart</b>", x=fx(35), y=fy(561), xref="paper", yref="paper",
         xanchor="left", yanchor="middle", showarrow=False, font=dict(family=FONT, size=28.5, color="black")),
    dict(text="Note: 1 Hour Chart for Last 24 Hours", x=fx(1162), y=fy(526), xref="paper", yref="paper",
         xanchor="center", yanchor="middle", showarrow=False, font=dict(family=FONT, size=20, color="black")),
    dict(text="Note: 1 Hour Chart for Last 1 Week", x=fx(1163), y=fy(1039), xref="paper", yref="paper",
         xanchor="center", yanchor="middle", showarrow=False, font=dict(family=FONT, size=20, color="black")),
]
label_pos_24h = [(1453, 100), (1465, 157), (1471, 290), (1470, 362)]
label_pos_week = [(1429, 620), (1438, 665), (1448, 769), (1446, 841)]
for lv, (px_, py_) in zip(levels_24h, label_pos_24h):
    annotations.append(dict(text=f"{lv:.4f}", x=fx(px_), y=fy(py_), xref="paper", yref="paper",
                            xanchor="center", yanchor="middle", showarrow=False,
                            font=dict(family=FONT, size=20, color="black")))
for lv, (px_, py_) in zip(levels_week, label_pos_week):
    annotations.append(dict(text=f"{lv:.4f}", x=fx(px_), y=fy(py_), xref="paper", yref="paper",
                            xanchor="center", yanchor="middle", showarrow=False,
                            font=dict(family=FONT, size=20, color="black")))

shapes = [
    dict(type="line", xref="paper", yref="paper", x0=fx(20), x1=fx(1545), y0=fy(539), y1=fy(539),
         line=dict(color="#808080", width=2)),
    dict(type="line", xref="paper", yref="paper", x0=fx(20), x1=fx(1545), y0=fy(1073), y1=fy(1073),
         line=dict(color="#808080", width=2)),
]

fig.update_layout(
    width=1711, height=1178, autosize=False,
    margin=dict(l=0, r=0, t=0, b=0, pad=0),
    paper_bgcolor="white", plot_bgcolor="white",
    template="none",
    font=dict(family=FONT, size=20, color="black"),
    bargap=0,
    hovermode=False,
    annotations=annotations,
    shapes=shapes,
    legend=legend_cfg(232, 73, 42),
    legend2=legend_cfg(188, 518, 42),
    legend3=legend_cfg(914, 492, 44),
    legend4=legend_cfg(216, 613, 42),
    legend5=legend_cfg(162, 1035, 42),
    legend6=legend_cfg(860, 1000, 50),
    **layout_axes,
)

fig.write_html("out.html", config={"displayModeBar": False, "staticPlot": True},
               post_script="document.body.style.margin='0px';")
